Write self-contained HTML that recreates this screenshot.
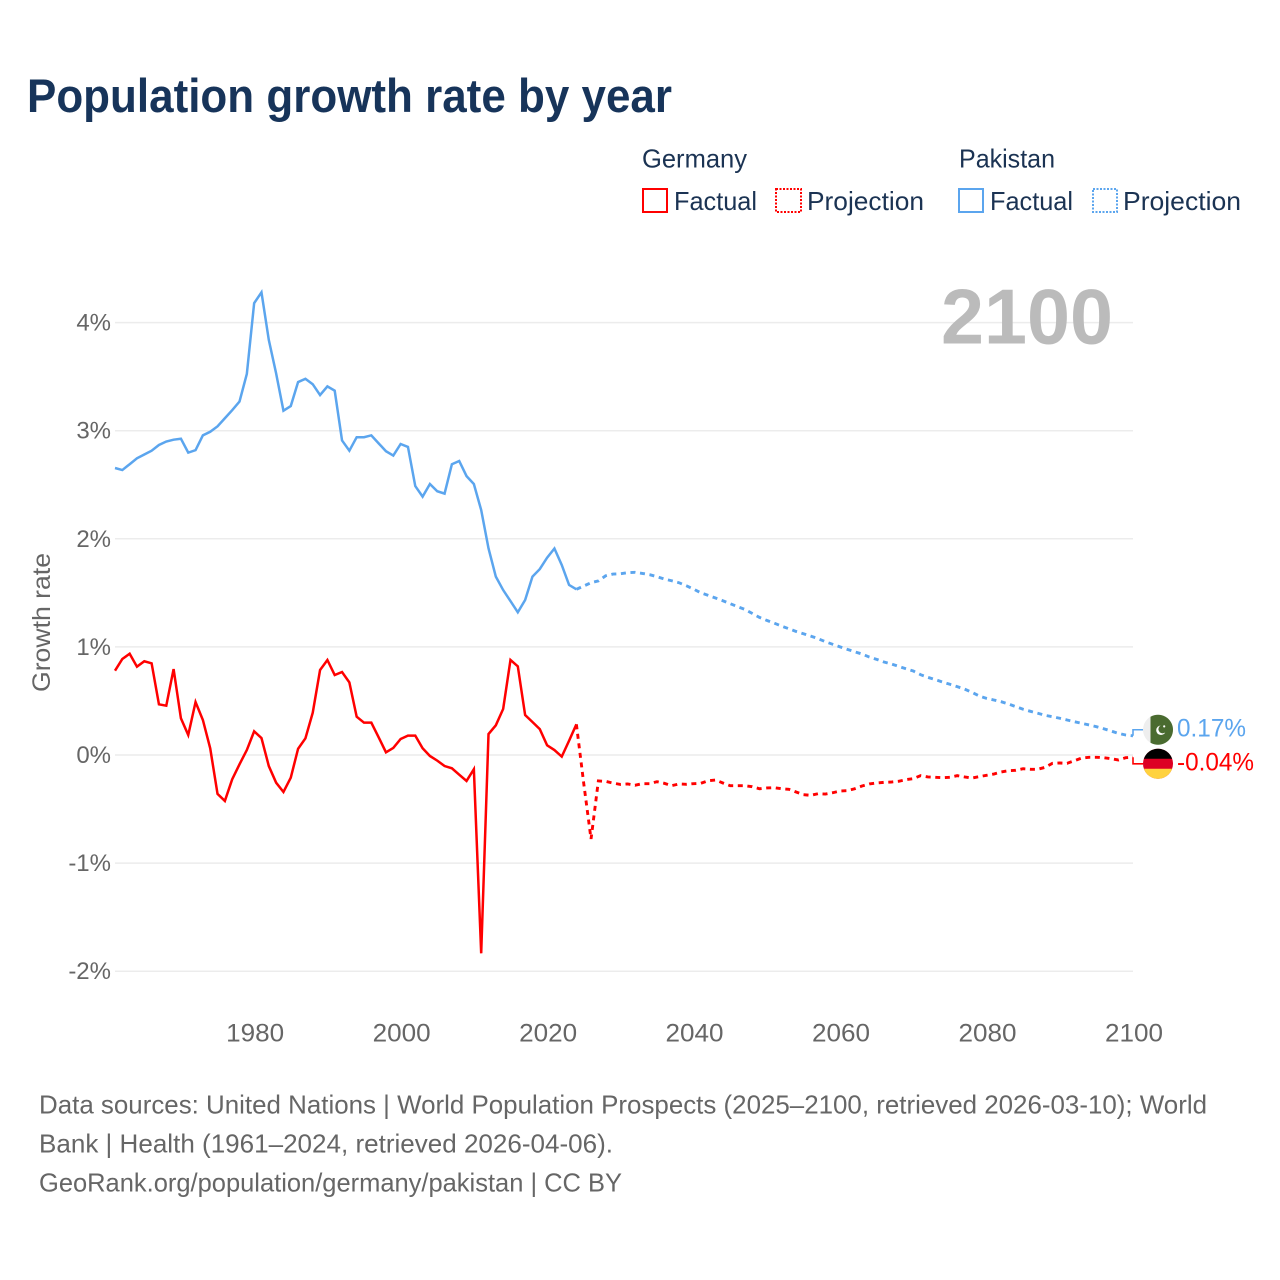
<!DOCTYPE html>
<html lang="en">
<head>
<meta charset="utf-8">
<title>Population growth rate by year</title>
<style>
html,body{margin:0;padding:0;background:#fff;}
svg{display:block;font-family:"Liberation Sans",sans-serif;}
</style>
</head>
<body>
<svg id="chart" width="1280" height="1280" viewBox="0 0 1280 1280" xmlns="http://www.w3.org/2000/svg">
  <rect width="1280" height="1280" fill="#ffffff"/>
  <text x="27" y="112" font-size="47" font-weight="700" fill="#17345a" textLength="645" lengthAdjust="spacingAndGlyphs">Population growth rate by year</text>

  <g font-size="26" fill="#1b3353">
    <text x="642" y="167.5" textLength="105" lengthAdjust="spacingAndGlyphs">Germany</text>
    <text x="959" y="167.5" textLength="96" lengthAdjust="spacingAndGlyphs">Pakistan</text>
    <rect x="643" y="189" width="24" height="23" fill="none" stroke="#ff0000" stroke-width="2"/>
    <text x="674" y="210" textLength="83" lengthAdjust="spacingAndGlyphs">Factual</text>
    <rect x="776" y="189" width="25" height="23" fill="none" stroke="#ff0000" stroke-width="2" stroke-dasharray="2 1.5"/>
    <text x="807" y="210" textLength="117" lengthAdjust="spacingAndGlyphs">Projection</text>
    <rect x="959" y="189" width="24" height="23" fill="none" stroke="#5ba5ee" stroke-width="2"/>
    <text x="990" y="210" textLength="83" lengthAdjust="spacingAndGlyphs">Factual</text>
    <rect x="1093" y="189" width="24" height="23" fill="none" stroke="#5ba5ee" stroke-width="2" stroke-dasharray="2 1.5"/>
    <text x="1123" y="210" textLength="118" lengthAdjust="spacingAndGlyphs">Projection</text>
  </g>

  <g id="grid"></g>
  <g id="yticks"></g>
  <g id="xticks"></g>

  <text transform="translate(50,692) rotate(-90)" font-size="25" fill="#666666" textLength="139" lengthAdjust="spacingAndGlyphs">Growth rate</text>
  <text x="941" y="343.5" font-size="78" font-weight="700" fill="#bbbbbb" textLength="172" lengthAdjust="spacingAndGlyphs">2100</text>

  <g id="series"></g>
  <g id="ends"></g>

  <g font-size="26" fill="#666666">
    <text x="39" y="1113.5" textLength="1168" lengthAdjust="spacingAndGlyphs">Data sources: United Nations | World Population Prospects (2025–2100, retrieved 2026-03-10); World</text>
    <text x="39" y="1152.5" textLength="574" lengthAdjust="spacingAndGlyphs">Bank | Health (1961–2024, retrieved 2026-04-06).</text>
    <text x="39" y="1191.5" textLength="583" lengthAdjust="spacingAndGlyphs">GeoRank.org/population/germany/pakistan | CC BY</text>
  </g>
</svg>
<script>
const firstYear = 1961;
const lastYear = 2100;
const yTicks = [4, 3, 2, 1, 0, -1, -2];
const xTicks = [1980, 2000, 2020, 2040, 2060, 2080, 2100];

// Germany 1961-2024
const germanyFactual = [0.78,0.888,0.937,0.817,0.867,0.848,0.469,0.456,0.795,0.34,0.185,0.49,0.324,0.062,-0.36,-0.425,-0.225,-0.086,0.046,0.219,0.157,-0.102,-0.256,-0.342,-0.21,0.058,0.154,0.391,0.786,0.879,0.74,0.768,0.672,0.354,0.299,0.299,0.164,0.025,0.065,0.148,0.179,0.179,0.062,-0.009,-0.052,-0.102,-0.123,-0.182,-0.24,-0.132,-1.835,0.194,0.275,0.426,0.879,0.82,0.37,0.305,0.24,0.09,0.046,-0.015,0.132,0.284];
// Germany 2024-2100
const germanyProjection = [0.284,-0.262,-0.777,-0.24,-0.244,-0.26,-0.272,-0.268,-0.28,-0.265,-0.265,-0.247,-0.262,-0.284,-0.268,-0.271,-0.265,-0.262,-0.238,-0.231,-0.259,-0.284,-0.284,-0.284,-0.293,-0.312,-0.305,-0.302,-0.312,-0.317,-0.342,-0.367,-0.373,-0.358,-0.361,-0.349,-0.333,-0.33,-0.312,-0.287,-0.268,-0.259,-0.253,-0.25,-0.243,-0.228,-0.219,-0.191,-0.203,-0.206,-0.21,-0.206,-0.191,-0.203,-0.213,-0.2,-0.188,-0.176,-0.157,-0.145,-0.142,-0.127,-0.132,-0.132,-0.114,-0.077,-0.074,-0.077,-0.053,-0.028,-0.021,-0.021,-0.025,-0.034,-0.046,-0.025,-0.021];
// Pakistan 1961-2024
const pakistanFactual = [2.655,2.636,2.69,2.745,2.78,2.815,2.868,2.9,2.917,2.926,2.797,2.82,2.957,2.99,3.04,3.115,3.19,3.27,3.525,4.18,4.28,3.84,3.53,3.185,3.228,3.45,3.48,3.43,3.33,3.41,3.37,2.91,2.815,2.94,2.94,2.957,2.883,2.81,2.77,2.877,2.85,2.488,2.39,2.507,2.44,2.418,2.69,2.72,2.58,2.507,2.266,1.912,1.65,1.526,1.424,1.32,1.434,1.65,1.72,1.825,1.91,1.758,1.573,1.533];
// Pakistan 2024-2100
const pakistanProjection = [1.533,1.563,1.594,1.61,1.658,1.674,1.677,1.686,1.69,1.68,1.668,1.65,1.628,1.612,1.594,1.566,1.535,1.5,1.477,1.452,1.427,1.4,1.372,1.347,1.31,1.273,1.245,1.22,1.193,1.168,1.143,1.122,1.1,1.076,1.048,1.024,1.0,0.977,0.955,0.934,0.906,0.885,0.86,0.842,0.82,0.798,0.777,0.743,0.718,0.697,0.675,0.654,0.632,0.61,0.58,0.546,0.524,0.509,0.493,0.472,0.447,0.423,0.404,0.386,0.367,0.354,0.34,0.324,0.308,0.293,0.278,0.262,0.243,0.222,0.2,0.185,0.178];

const germanyEndLabel = "-0.04%";
const pakistanEndLabel = "0.17%";

const SVG_NS = "http://www.w3.org/2000/svg";
const plotLeft = 115;
const plotRight = 1133;
const RED = "#ff0000";
const BLUE = "#5ba5ee";

function xScale(year) {
  return plotLeft + (year - firstYear) * (plotRight - plotLeft) / (lastYear - firstYear);
}
function yScale(value) {
  return 755 - value * 108.1;
}
function make(tag, parent) {
  const el = document.createElementNS(SVG_NS, tag);
  parent.appendChild(el);
  return el;
}
function pathFor(values, startYear) {
  return values.map(function (v, i) {
    return (i ? "L" : "M") + xScale(startYear + i).toFixed(2) + " " + yScale(v).toFixed(2);
  }).join("");
}

const grid = document.getElementById("grid");
const yticksGroup = document.getElementById("yticks");
yTicks.forEach(function (t) {
  const line = make("line", grid);
  
  
  line.setAttribute("x1", plotLeft);
  line.setAttribute("x2", plotRight);
  line.setAttribute("y1", yScale(t));
  line.setAttribute("y2", yScale(t));
  line.setAttribute("stroke", "#ececec");
  line.setAttribute("stroke-width", "1.5");

  const label = make("text", yticksGroup);
  
  
  label.setAttribute("x", 111);
  label.setAttribute("y", yScale(t) + 8);
  label.setAttribute("text-anchor", "end");
  label.setAttribute("font-size", "24");
  label.setAttribute("fill", "#666666");
  label.textContent = t + "%";
});

const xticksGroup = document.getElementById("xticks");
xTicks.forEach(function (t) {
  const label = make("text", xticksGroup);
  
  
  label.setAttribute("x", xScale(t) + 1);
  label.setAttribute("y", 1041.5);
  label.setAttribute("text-anchor", "middle");
  label.setAttribute("font-size", "25");
  label.setAttribute("fill", "#666666");
  label.setAttribute("textLength", "58");
  label.setAttribute("lengthAdjust", "spacingAndGlyphs");
  label.textContent = String(t);
});

const seriesGroup = document.getElementById("series");

const pakFactualLine = make("path", seriesGroup);


pakFactualLine.setAttribute("d", pathFor(pakistanFactual, firstYear));
pakFactualLine.setAttribute("fill", "none");
pakFactualLine.setAttribute("stroke", BLUE);
pakFactualLine.setAttribute("stroke-width", "2.5");

const pakProjectionLine = make("path", seriesGroup);


pakProjectionLine.setAttribute("d", pathFor(pakistanProjection, 2024));
pakProjectionLine.setAttribute("fill", "none");
pakProjectionLine.setAttribute("stroke", BLUE);
pakProjectionLine.setAttribute("stroke-width", "2.9");
pakProjectionLine.setAttribute("stroke-dasharray", "5 4.6");

const gerFactualLine = make("path", seriesGroup);


gerFactualLine.setAttribute("d", pathFor(germanyFactual, firstYear));
gerFactualLine.setAttribute("fill", "none");
gerFactualLine.setAttribute("stroke", RED);
gerFactualLine.setAttribute("stroke-width", "2.5");

const gerProjectionLine = make("path", seriesGroup);


gerProjectionLine.setAttribute("d", pathFor(germanyProjection, 2024));
gerProjectionLine.setAttribute("fill", "none");
gerProjectionLine.setAttribute("stroke", RED);
gerProjectionLine.setAttribute("stroke-width", "2.9");
gerProjectionLine.setAttribute("stroke-dasharray", "5 4.6");

// End leaders, flags and value labels (nudged apart by 6px from the line ends)
const ends = document.getElementById("ends");
const pakEndY = yScale(pakistanProjection[pakistanProjection.length - 1]);
const gerEndY = yScale(germanyProjection[germanyProjection.length - 1]);
const pakFlagY = pakEndY - 6;
const gerFlagY = gerEndY + 6.5;
const flagX = 1158;

const pakLeader = make("path", ends);


pakLeader.setAttribute("d", "M" + plotRight + " " + pakEndY + "V" + pakFlagY + "H1143");
pakLeader.setAttribute("fill", "none");
pakLeader.setAttribute("stroke", BLUE);
pakLeader.setAttribute("stroke-width", "1.6");

const gerLeader = make("path", ends);


gerLeader.setAttribute("d", "M" + plotRight + " " + gerEndY + "V" + gerFlagY + "H1143");
gerLeader.setAttribute("fill", "none");
gerLeader.setAttribute("stroke", RED);
gerLeader.setAttribute("stroke-width", "1.6");

const pakFlag = make("g", ends);


pakFlag.setAttribute("transform", "translate(" + flagX + " " + pakFlagY + ")");
pakFlag.innerHTML =
  '<circle r="15" fill="#eeeeee"/>' +
  '<path d="M-7.5 -13 A15 15 0 0 1 15 0 A15 15 0 0 1 -7.5 13 Z" fill="#4a6b30"/>' +
  '<circle cx="3" cy="0.5" r="4.8" fill="#ffffff"/>' +
  '<circle cx="4.6" cy="-0.6" r="4.2" fill="#4a6b30"/>' +
  '<circle cx="6.2" cy="-3.4" r="1.1" fill="#ffffff"/>';

const gerFlag = make("g", ends);


gerFlag.setAttribute("transform", "translate(" + flagX + " " + gerFlagY + ")");
gerFlag.innerHTML =
  '<circle r="15" fill="#dd0024"/>' +
  '<path d="M-14.15 -5 A15 15 0 0 1 14.15 -5 Z" fill="#000000"/>' +
  '<path d="M-14.15 5 A15 15 0 0 0 14.15 5 Z" fill="#ffd23f"/>';

const pakLabel = make("text", ends);


pakLabel.setAttribute("x", 1177);
pakLabel.setAttribute("y", pakFlagY + 6.5);
pakLabel.setAttribute("font-size", "25");
pakLabel.setAttribute("fill", BLUE);
pakLabel.setAttribute("textLength", "69");
pakLabel.setAttribute("lengthAdjust", "spacingAndGlyphs");
pakLabel.textContent = pakistanEndLabel;

const gerLabel = make("text", ends);


gerLabel.setAttribute("x", 1177);
gerLabel.setAttribute("y", gerFlagY + 6.5);
gerLabel.setAttribute("font-size", "25");
gerLabel.setAttribute("fill", RED);
gerLabel.setAttribute("textLength", "77");
gerLabel.setAttribute("lengthAdjust", "spacingAndGlyphs");
gerLabel.textContent = germanyEndLabel;
</script>
</body>
</html>
